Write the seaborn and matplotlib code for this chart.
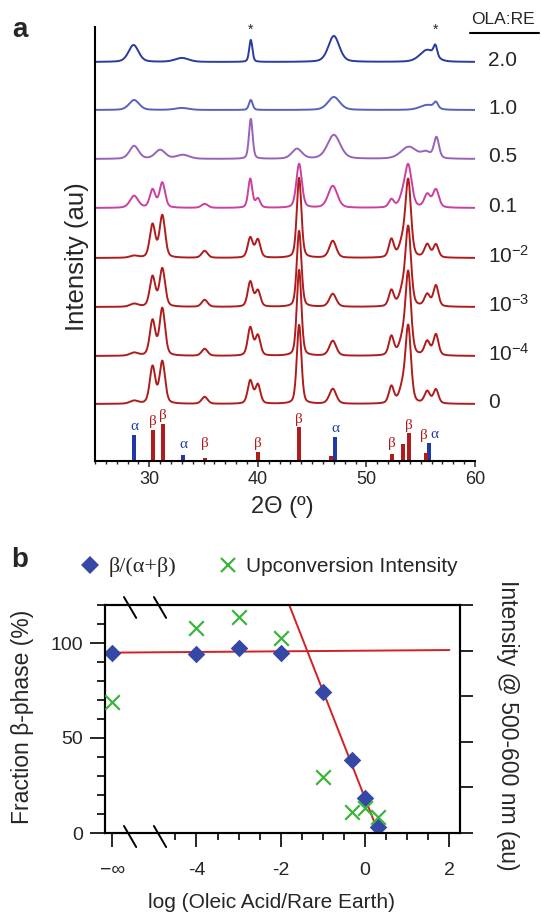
import numpy as np
import pandas as pd
import matplotlib
matplotlib.use("Agg")
import matplotlib.pyplot as plt
import seaborn as sns
from matplotlib.lines import Line2D

# ---------------- data: panel a (XRD peaks) ----------------
sample_labels = ["2.0", "1.0", "0.5", "0.1", "10$^{-2}$", "10$^{-3}$", "10$^{-4}$", "0"]

pos_20 = [28.55, 33.0, 39.35, 47.0, 55.6, 56.35]
fw_20 = [1.1, 1.5, 0.35, 1.2, 1.6, 0.4]
h_20 = [17, 4, 22, 26, 12, 11]

pos_10 = [28.6, 33.0, 39.35, 47.0, 55.6, 56.4]
fw_10 = [1.1, 1.5, 0.4, 1.3, 1.6, 0.45]
h_10 = [10, 2, 10, 13, 5, 6]

pos_05 = [28.6, 31.0, 33.1, 39.35, 43.6, 47.0, 53.9, 55.5, 56.45]
fw_05 = [1.0, 1.1, 1.4, 0.4, 1.1, 1.4, 1.7, 1.0, 0.55]
h_05 = [13, 9, 4, 40, 10, 24, 12, 6, 21]

pos_01 = [28.6, 30.3, 31.2, 35.1, 39.3, 40.0, 43.8, 46.9, 52.3, 53.3, 53.85, 55.6, 56.4]
fw_01 = [0.9, 0.6, 0.6, 0.7, 0.45, 0.5, 0.6, 1.0, 0.55, 0.7, 0.75, 0.65, 0.65]
h_01 = [12, 18, 25, 4, 29, 9, 44, 22, 8, 8, 42, 13, 18]

pos_red = [28.6, 30.3, 31.2, 35.1, 39.3, 40.0, 43.8, 46.9, 52.3, 53.3, 53.85, 55.6, 56.4]
fw_red = [0.9, 0.6, 0.6, 0.65, 0.55, 0.55, 0.5, 0.75, 0.55, 0.7, 0.6, 0.6, 0.55]
h_1e2 = [2, 33, 42, 7, 20, 18, 80, 17, 18, 14, 76, 13, 13]
h_1e3 = [3, 30, 38, 7, 25, 16, 76, 13, 16, 14, 78, 12, 21]
h_1e4 = [3, 35, 47, 7, 28, 20, 86, 15, 19, 14, 82, 14, 21]
h_0 = [3, 37, 42, 7, 23, 19, 79, 15, 17, 14, 76, 12, 14]

# reference reflections
alpha_pos = [28.6, 33.1, 47.1, 55.8, 58.4]
alpha_h = [26, 6, 24, 18, 1]
beta_pos = [30.35, 31.25, 35.1, 40.0, 43.8, 46.75, 52.35, 53.4, 53.9, 55.5]
beta_h = [31, 37, 3, 9, 34, 5, 7, 17, 28, 8]
alpha_labelled = [True, True, True, True, False]
beta_labelled = [True, True, True, True, True, False, True, False, True, True]

# ---------------- data: panel b ----------------
log_ratio = [-6, -4, -3, -2, -1, -0.301, 0, 0.301]
beta_fraction = [94.9, 94.2, 97.2, 94.9, 74.0, 38.4, 18.2, 3.3]
uc_intensity = [2.88, 4.49, 4.73, 4.27, 1.23, 0.47, 0.54, 0.34]
fit_flat_x = [-6.17, 2.0]
fit_flat_y = [94.9, 96.3]
fit_steep_x = [-1.8, 0.32]
fit_steep_y = [120, 0]

# ---------------- style ----------------
sns.set_theme(style="white")
plt.rcParams["font.family"] = ["Liberation Sans", "DejaVu Sans"]
plt.rcParams["mathtext.fontset"] = "custom"
plt.rcParams["mathtext.rm"] = "Liberation Sans"
plt.rcParams["mathtext.it"] = "Liberation Sans:italic"
plt.rcParams["mathtext.bf"] = "Liberation Sans:bold"

W, H = 541, 915
fig = plt.figure(figsize=(W / 100, H / 100), dpi=100)


def fx(px):
    return px / W


def fy(py):
    return 1 - py / H


def pvoigt(x, pos, h, fw, eta=0.35):
    out = np.zeros_like(x)
    for p, hh, w in zip(pos, h, fw):
        d = (x - p) / w
        out += hh * (eta / (1 + 4 * d ** 2) + (1 - eta) * np.exp(-4 * np.log(2) * d ** 2))
    return out


trace_offset = [399, 351, 302, 253, 203, 154, 105, 57]
trace_colors = ["#2a3a9e", "#5862b9", "#9763b9", "#c9409f",
                "#b01c1c", "#b01c1c", "#b01c1c", "#b01c1c"]
peak_sets = [(pos_20, h_20, fw_20), (pos_10, h_10, fw_10), (pos_05, h_05, fw_05),
             (pos_01, h_01, fw_01), (pos_red, h_1e2, fw_red), (pos_red, h_1e3, fw_red),
             (pos_red, h_1e4, fw_red), (pos_red, h_0, fw_red)]

x = np.linspace(25.05, 60.0, 1600)
frames = []
for lab, off, (p, h, w) in zip(sample_labels, trace_offset, peak_sets):
    frames.append(pd.DataFrame({"two_theta": x, "intensity": off + pvoigt(x, p, h, w),
                                "sample": lab}))
df = pd.concat(frames, ignore_index=True)

# ---------------- panel a ----------------
axa = fig.add_axes([fx(95), fy(461), fx(380), 434 / H])
sns.lineplot(data=df, x="two_theta", y="intensity", hue="sample",
             hue_order=sample_labels, palette=trace_colors, estimator=None,
             sort=False, legend=False, lw=1.4, ax=axa)

blue_bar = "#1f3aa8"
red_bar = "#b01c1c"
axa.bar(alpha_pos, alpha_h, width=0.38, color=blue_bar, linewidth=0)
axa.bar(beta_pos, beta_h, width=0.38, color=red_bar, linewidth=0)
for p, hh, lab in zip(alpha_pos, alpha_h, alpha_labelled):
    if lab:
        xx = p + 0.5 if p > 55 else p
        axa.text(xx, max(hh, 9) + 8, "α", color=blue_bar, ha="center", va="center",
                 fontsize=11, family="Liberation Serif")
for p, hh, lab in zip(beta_pos, beta_h, beta_labelled):
    if lab:
        xx = p - 0.2 if p > 55 else p
        yy = max(hh, 9) + 8
        if p > 55:
            yy = max(alpha_h[3], 9) + 8
        axa.text(xx, yy, "β", color=red_bar, ha="center", va="center",
                 fontsize=11, family="Liberation Serif")

axa.set_xlim(25, 60)
axa.set_ylim(0, 434)
axa.set_xticks([30, 40, 50, 60])
axa.set_xticks(np.arange(25, 61, 1), minor=True)
axa.set_yticks([])
axa.tick_params(axis="x", which="major", direction="out", length=4.5, width=1.1,
                labelsize=13, pad=3, bottom=True)
axa.tick_params(axis="x", which="minor", direction="out", length=2.3, width=1.0, bottom=True)
for s in ["top", "right"]:
    axa.spines[s].set_visible(False)
for s in ["left", "bottom"]:
    axa.spines[s].set_color("black")
    axa.spines[s].set_linewidth(1.5)
axa.set_xlabel("")
axa.set_ylabel("")

for lab, off in zip(sample_labels, trace_offset):
    axa.text(61.2, off + 2, lab, fontsize=15, ha="left", va="center", clip_on=False)
for p in [39.35, 56.4]:
    axa.text(p, 431, "*", fontsize=10, ha="center", va="center", clip_on=False)

fig.text(fx(503), fy(19), "OLA:RE", fontsize=12.5, ha="center", va="center")
fig.add_artist(Line2D([fx(470), fx(539)], [fy(33), fy(33)], transform=fig.transFigure,
                      color="black", lw=1.5))
fig.text(fx(20), fy(30), "a", fontsize=20, fontweight="bold", ha="center", va="center")
fig.text(fx(77), fy(257), "Intensity (au)", fontsize=18.5, rotation=90,
         ha="center", va="center")
fig.text(fx(282), fy(507), "2Θ (º)", fontsize=17, ha="center", va="center")

# ---------------- panel b ----------------
diamond = "#3548a5"
green = "#3cb43c"
fitred = "#d42020"

axb = fig.add_axes([fx(105), fy(833), fx(355), 228 / H])
axb2 = axb.twinx()

sns.lineplot(x=fit_flat_x, y=fit_flat_y, color=fitred, lw=1.4, ax=axb, estimator=None)
sns.lineplot(x=fit_steep_x, y=fit_steep_y, color=fitred, lw=1.4, ax=axb, estimator=None)
sns.scatterplot(x=log_ratio, y=beta_fraction, marker="D", s=80, color=diamond,
                edgecolor=diamond, linewidth=0, ax=axb, zorder=5)
sns.scatterplot(x=log_ratio, y=uc_intensity, marker="x", s=110, color=green,
                linewidth=1.6, ax=axb2, zorder=4)

axb.set_xlim(-6.17, 2.25)
axb.set_ylim(0, 120)
axb2.set_ylim(0, 5)
axb.set_xticks([-6, -4, -2, 0, 2])
axb.set_xticklabels(["−∞", "-4", "-2", "0", "2"])
axb.set_xticks([-4.5, -3.5, -3, -2.5, -1.5, -1, -0.5, 0.5, 1, 1.5], minor=True)
axb.set_yticks([0, 50, 100])
axb.set_yticks(np.arange(0, 121, 10), minor=True)
axb2.set_yticks([0, 1, 2, 3, 4, 5])
axb2.set_yticklabels([])
axb.tick_params(axis="x", which="major", direction="out", length=10, width=1.4,
                labelsize=14, pad=11, bottom=True)
axb.tick_params(axis="x", which="minor", direction="out", length=5, width=1.4, bottom=True)
axb.tick_params(axis="y", which="major", direction="out", length=11, width=1.4,
                labelsize=14, pad=5, left=True)
axb.tick_params(axis="y", which="minor", direction="out", length=5.5, width=1.4, left=True)
axb2.tick_params(axis="y", which="major", direction="out", length=9.5, width=1.4, right=True)
for a in (axb, axb2):
    for s in a.spines.values():
        s.set_color("black")
        s.set_linewidth(1.5)
axb.set_xlabel("")
axb.set_ylabel("")
axb2.set_ylabel("")

# axis-break marks
for xb in [(-5.72, -5.43), (-5.01, -4.72)]:
    axb.add_line(Line2D(list(xb), [3.7, -7.4], color="black", lw=1.4, clip_on=False))
    axb.add_line(Line2D(list(xb), [124.2, 113.2], color="black", lw=1.4, clip_on=False))

fig.text(fx(20), fy(560), "b", fontsize=20, fontweight="bold", ha="center", va="center")
fig.text(fx(23), fy(717), "Fraction β-phase (%)", fontsize=16.5, rotation=90,
         ha="center", va="center")
fig.text(fx(507), fy(725), "Intensity @ 500-600 nm (au)", fontsize=16.5, rotation=270,
         ha="center", va="center")
fig.text(fx(272), fy(903), "log (Oleic Acid/Rare Earth)", fontsize=15,
         ha="center", va="center")

handles = [Line2D([], [], marker="D", ls="", color=diamond, ms=8.7, mew=0),
           Line2D([], [], marker="x", ls="", color=green, ms=10.5, mew=1.6)]
leg = fig.legend(handles, ["β/(α+β)", "Upconversion Intensity"], loc="center left",
                 bbox_to_anchor=(fx(80), fy(567)), ncol=2, frameon=False, fontsize=15,
                 handletextpad=0.35, columnspacing=2.0, borderaxespad=0, borderpad=0,
                 handlelength=1.0)
leg.get_texts()[0].set_fontfamily("Liberation Serif")
leg.get_texts()[0].set_fontsize(16)

fig.savefig("out.png", dpi=100)
